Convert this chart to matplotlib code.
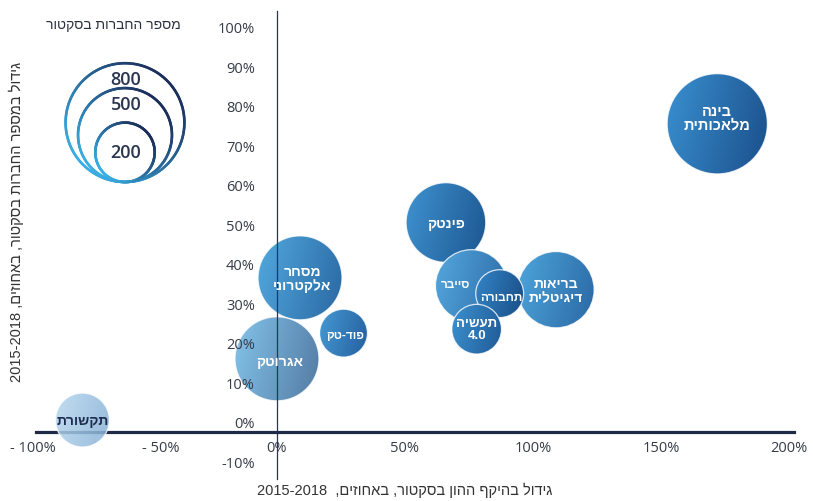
import re
import numpy as np
import matplotlib
matplotlib.use('Agg')
import matplotlib.pyplot as plt
from matplotlib.patches import Circle
from matplotlib.collections import LineCollection
from matplotlib.transforms import ScaledTranslation
from matplotlib.colors import to_rgb

plt.rcParams['font.family'] = ['Open Sans', 'DejaVu Sans']

# data
sectors = ['פינטק', 'בריאות\nדיגיטלית', 'סייבר', 'תחבורה', 'תעשיה\n4.0',
           'מסחר\nאלקטרוני', 'אגרוטק', 'פוד-טק', 'בינה\nמלאכותית', 'תקשורת']
capital_growth = [66, 109, 76, 87, 78, 9, 0, 26, 172, -76]      # x, %
companies_growth = [53, 36, 37, 35, 26, 39, 18.5, 25, 78, 3]   # y, %
n_companies = [360, 330, 295, 130, 140, 400, 400, 130, 570, 165]

legend_sizes = [800, 500, 200]
x_ticks = [-100, -50, 0, 50, 100, 150, 200]
y_ticks = [-10, 0, 10, 20, 30, 40, 50, 60, 70, 80, 90, 100]

xlabel = 'גידול בהיקף ההון בסקטור, באחוזים,  2015-2018'
ylabel = 'גידול במספר החברות בסקטור, באחוזים, 2015-2018'
legend_title = 'מספר החברות בסקטור'

# styles
grads = [('#3f93d0', '#1c5690'), ('#4ea5dc', '#2a68a3'), ('#55a8de', '#2b6aa6'),
         ('#3385c6', '#1a4d86'), ('#3d91cf', '#1f5a96'), ('#52a9de', '#2a68a3'),
         ('#76bde8', '#3f6b98'), ('#4598d3', '#24609e'), ('#3a90d1', '#1a4f8a'),
         ('#b7d7ef', '#86b0d5')]
alphas = [1, 1, 1, 1, 1, 1, 0.9, 1, 1, 0.85]
zorders = [3, 4, 5, 6, 7, 8, 9, 10, 11, 14]
label_dx = [0, 0, -16, 2, 0, 2, 3, 2, 0, 0]  # px
label_dy = [0, 0, 2, -3, 0, 0, -2, -2, 6, 0]  # px
label_size = [10, 10, 8.5, 8.5, 9.5, 10, 10, 8.5, 10.5, 10]
label_colors = ['white'] * 9 + ['#1d2d4f']
heb_font = ['Liberation Sans', 'DejaVu Sans']
R_PER_SQRT = 0.021  # inches per sqrt(companies)


def rtl(s):
    out = []
    for line in s.split('\n'):
        r = line[::-1]
        r = re.sub(r'[0-9][0-9.\-]*[0-9]|[0-9]', lambda m: m.group(0)[::-1], r)
        out.append(r)
    return '\n'.join(out)


fig = plt.figure(figsize=(8.13, 5.02), dpi=100)
ax = fig.add_axes([0, 0, 1, 1])

gx, gy = np.meshgrid(np.linspace(0, 1, 120), np.linspace(0, 1, 120))
tt = 0.8 * gx + 0.2 * (1 - gy)

for i in range(len(sectors)):
    x, y, n = capital_growth[i], companies_growth[i], n_companies[i]
    r = R_PER_SQRT * np.sqrt(n)
    trans = fig.dpi_scale_trans + ScaledTranslation(x, y, ax.transData)
    c0, c1 = np.array(to_rgb(grads[i][0])), np.array(to_rgb(grads[i][1]))
    img = c0 * (1 - tt)[..., None] + c1 * tt[..., None]
    clip = Circle((0, 0), r, transform=trans)
    im = ax.imshow(img, extent=(-r, r, -r, r), origin='lower', transform=trans,
                   aspect='auto', interpolation='bilinear', zorder=zorders[i],
                   alpha=alphas[i])
    im.set_clip_path(clip)
    ax.add_patch(Circle((0, 0), r, transform=trans, fill=False, ec='white',
                        lw=0.9, alpha=0.8, zorder=zorders[i] + 0.1))
    off = ScaledTranslation(label_dx[i] / 100, label_dy[i] / 100, fig.dpi_scale_trans)
    ax.text(x, y, rtl(sectors[i]), ha='center', va='center', fontsize=label_size[i],
            fontweight='bold', color=label_colors[i], family=heb_font,
            linespacing=1.0, zorder=20, transform=ax.transData + off)

ax.set_xlim(-108.2, 209.4)
ax.set_ylim(-17.5, 109.6)

for s in ['top', 'right']:
    ax.spines[s].set_visible(False)
ax.spines['left'].set_position(('data', 0))
ax.spines['bottom'].set_position(('data', 0))
ax.spines['bottom'].set_bounds(-94, 202)
ax.spines['left'].set_bounds(-12, 106.5)
ax.spines['bottom'].set_linewidth(2.3)
ax.spines['bottom'].set_color('#1e2a46')
ax.spines['left'].set_linewidth(0.9)
ax.spines['left'].set_color('#2a3552')
ax.spines['bottom'].set_zorder(13)
ax.spines['left'].set_zorder(13)

ax.set_xticks(x_ticks)
ax.set_xticklabels([('- %d%%' % -v) if v < 0 else '%d%%' % v for v in x_ticks])
ax.set_yticks(y_ticks)
ax.set_yticklabels(['%d%%' % v for v in y_ticks])
ax.tick_params(axis='both', length=0, labelsize=10.5, labelcolor='#363b48')
ax.tick_params(axis='x', pad=6)
ax.tick_params(axis='y', pad=16)
ax.xaxis.set_zorder(16)
ax.yaxis.set_zorder(16)
for lbl in ax.get_yticklabels():
    lbl.set_transform(lbl.get_transform() + ScaledTranslation(0, 0.10, fig.dpi_scale_trans))
for v, lbl in zip(x_ticks, ax.get_xticklabels()):
    if v < 0:
        lbl.set_transform(lbl.get_transform() + ScaledTranslation(0.12, 0, fig.dpi_scale_trans))

fig.text(405 / 813, 1 - 490 / 502, rtl(xlabel), ha='center', va='center',
         fontsize=10.5, color='#333333', family=heb_font)
fig.text(16 / 813, 1 - 222 / 502, rtl(ylabel), ha='center', va='center',
         rotation=90, fontsize=10.5, color='#333333', family=heb_font)

# size legend
fig.text(113 / 813, 1 - 25 / 502, rtl(legend_title), ha='center', va='center',
         fontsize=10, color='#2b3040', family=heb_font)
cx, base = 1.25, 3.19
light, dark = np.array(to_rgb('#3aaee3')), np.array(to_rgb('#1b2d5a'))
for n in legend_sizes:
    r = R_PER_SQRT * np.sqrt(n)
    th = np.linspace(0, 2 * np.pi, 241)
    pts = np.column_stack([cx + r * np.cos(th), base + r + r * np.sin(th)]).reshape(-1, 1, 2)
    segs = np.concatenate([pts[:-1], pts[1:]], axis=1)
    mid = (th[:-1] + th[1:]) / 2
    t = ((np.cos(mid) + np.sin(mid)) / np.sqrt(2) * 0.5 + 0.5)[:, None]
    cols = light * (1 - t) + dark * t
    fig.add_artist(LineCollection(segs, colors=cols, linewidths=1.9, capstyle='round',
                                  transform=fig.dpi_scale_trans))
    ly = base + r if n == min(legend_sizes) else base + 2 * r - 0.155
    fig.text(cx + 0.01, ly, str(n), ha='center', va='center', fontsize=13,
             fontweight='semibold', color='#2b3550', transform=fig.dpi_scale_trans)

fig.savefig('out.png', dpi=100)
